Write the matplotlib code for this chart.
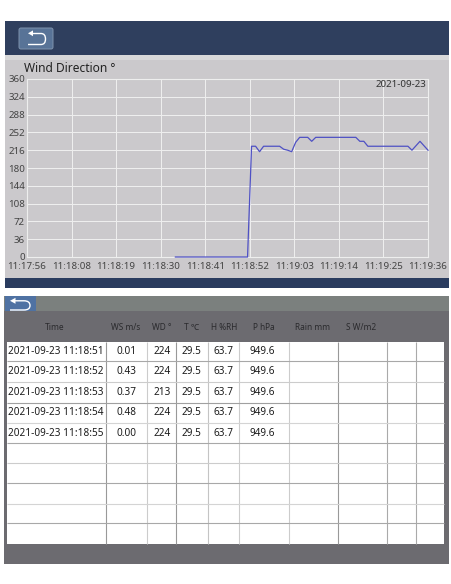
import matplotlib
matplotlib.use("Agg")
import matplotlib.pyplot as plt
from matplotlib.patches import Rectangle, FancyBboxPatch, Polygon
from matplotlib.path import Path
from matplotlib.patches import PathPatch

plt.rcParams['font.family'] = ['Noto Sans', 'Noto Sans CJK SC', 'DejaVu Sans']

# ---- data ----
chart_title = "Wind Direction °"
chart_date = "2021-09-23"
y_ticks = [0, 36, 72, 108, 144, 180, 216, 252, 288, 324, 360]
x_ticks = [0, 11.11, 22.22, 33.33, 44.44, 55.56, 66.67, 77.78, 88.89, 100]
x_labels = ["11:17:56", "11:18:08", "11:18:19", "11:18:30", "11:18:41",
            "11:18:52", "11:19:03", "11:19:14", "11:19:25", "11:19:36"]
seconds = [37, 38, 39, 40, 41, 42, 43, 44, 45, 46, 47, 48, 49, 50, 51, 52, 53, 54, 55,
           56, 57, 58, 59, 60, 61, 62, 63, 64, 65, 66, 67, 68, 69, 70, 71, 72, 73, 74,
           75, 76, 77, 78, 79, 80, 81, 82, 83, 84, 85, 86, 87, 88, 89, 90, 91, 92, 93,
           94, 95, 96, 97, 98, 99, 100]
direction = [0, 0, 0, 0, 0, 0, 0, 0, 0, 0, 0, 0, 0, 0, 0, 0, 0, 0, 0,
             224, 224, 213, 224, 224, 224, 224, 224, 218, 216, 213, 232, 242, 242, 242, 234, 242, 242, 242,
             242, 242, 242, 242, 242, 242, 242, 242, 234, 234, 224, 224, 224, 224, 224, 224, 224, 224, 224,
             224, 224, 216, 225, 234, 225, 216]

table_headers = ["Time", "WS m/s", "WD °", "T ℃", "H %RH", "P hPa", "Rain mm", "S W/m2"]
row_time = ["2021-09-23 11:18:51", "2021-09-23 11:18:52", "2021-09-23 11:18:53",
            "2021-09-23 11:18:54", "2021-09-23 11:18:55"]
row_ws = ["0.01", "0.43", "0.37", "0.48", "0.00"]
row_wd = ["224", "224", "213", "224", "224"]
row_t = ["29.5", "29.5", "29.5", "29.5", "29.5"]
row_h = ["63.7", "63.7", "63.7", "63.7", "63.7"]
row_p = ["949.6", "949.6", "949.6", "949.6", "949.6"]

# ---- figure and pixel-space layer ----
fig = plt.figure(figsize=(4.52, 5.84), dpi=100, facecolor="white")
bg = fig.add_axes([0, 0, 1, 1])
bg.set_xlim(0, 452)
bg.set_ylim(584, 0)
bg.axis("off")

def rect(x0, y0, x1, y1, color, z=1):
    bg.add_patch(Rectangle((x0, y0), x1 - x0, y1 - y0, facecolor=color, edgecolor="none", zorder=z))

def back_icon(pts, head, lw):
    verts = [pts[0], pts[1], pts[2], pts[3], pts[4], pts[5], pts[6]]
    codes = [Path.MOVETO, Path.LINETO, Path.CURVE3, Path.CURVE3, Path.CURVE3, Path.CURVE3, Path.LINETO]
    bg.add_patch(PathPatch(Path(verts, codes), facecolor="none", edgecolor="white", lw=lw, zorder=5))
    bg.add_patch(Polygon(head, closed=True, facecolor="white", edgecolor="none", zorder=5))

# upper panel
rect(5, 21, 449, 55, "#2f3f5e")
rect(5, 55, 449, 60, "#d8d8d9")
rect(5, 60, 449, 278, "#cbc9cc")
rect(5, 278, 449, 287.5, "#2a3c5f")
bg.add_patch(FancyBboxPatch((19, 28), 34, 21, boxstyle="round,pad=0,rounding_size=2",
                            facecolor="#587397", edgecolor="#7f93ad", lw=0.7, zorder=3))
back_icon([(32, 33.5), (41, 33.5), (45.5, 33.5), (45.5, 39), (45.5, 44.5), (41, 44.5), (28, 44.5)],
          [(28, 33.3), (33, 30.4), (33, 36.2)], 1.0)
bg.text(24, 68.3, chart_title, fontsize=8.6, color="#222222", ha="left", va="center", zorder=4)

# lower panel
rect(4.5, 296, 449, 311, "#7b807e")
rect(4.5, 311, 449, 564, "#6c6b70")
rect(5, 296, 36, 311, "#4f72a3", z=2)
back_icon([(15, 300.8), (24, 300.8), (30, 300.8), (30, 305.5), (30, 310), (24, 310), (10, 310)],
          [(10, 300.8), (15.5, 297.8), (15.5, 303.8)], 1.0)

# table
col_edges = [6.7, 106.5, 147, 176.5, 208, 239.5, 288.7, 338, 387, 415.7, 444]
col_shades = ["#999999", "#cccccc", "#999999", "#c4c4c4", "#cccccc", "#cccccc", "#999999", "#aaaaaa", "#aaaaaa"]
row_edges = [341.7, 361.3, 382, 402.7, 422.7, 443.3, 463.3, 483.3, 504, 523.3, 544]
row_shades = ["#a8a8a8", "#cccccc", "#a0a0a0", "#d4d4d4", "#a8a8a8", "#cccccc", "#a8a8a8", "#d4d4d4", "#a8a8a8"]
rect(col_edges[0], row_edges[0], col_edges[-1], row_edges[-1], "white", z=2)
for x, c in zip(col_edges[1:-1], col_shades):
    bg.plot([x, x], [row_edges[0], row_edges[-1]], color=c, lw=0.8, zorder=3, solid_capstyle="butt")
for y, c in zip(row_edges[1:-1], row_shades):
    bg.plot([col_edges[0], col_edges[-1]], [y, y], color=c, lw=0.8, zorder=3, solid_capstyle="butt")

header_x = [55, 126, 162, 192, 224, 264, 313, 361]
for x, label in zip(header_x, table_headers):
    bg.text(x, 328, label, fontsize=6.0, color="#2b2b2e", ha="center", va="center", zorder=4)

value_x = [55.5, 126.7, 161.7, 191.7, 224, 262.7]
for i, row in enumerate(zip(row_time, row_ws, row_wd, row_t, row_h, row_p)):
    yc = (row_edges[i] + row_edges[i + 1]) / 2
    for x, s in zip(value_x, row):
        bg.text(x, yc, s, fontsize=7.2, color="#1c1c1c", ha="center", va="center", zorder=4)

# chart
ax = fig.add_axes([27 / 452, (584 - 257) / 584, (428 - 27) / 452, (257 - 79) / 584])
ax.set_facecolor("#cbc9cc")
ax.set_xlim(0, 100)
ax.set_ylim(0, 360)
ax.set_xticks(x_ticks)
ax.set_xticklabels(x_labels)
ax.set_yticks(y_ticks)
ax.grid(True, color="#eeeeee", lw=0.75)
ax.set_axisbelow(True)
for s in ["left", "bottom", "top", "right"]:
    ax.spines[s].set_color("#eeeeee")
    ax.spines[s].set_linewidth(0.8)
ax.tick_params(axis="both", length=0, labelsize=7.0, labelcolor="#444444")
ax.tick_params(axis="x", pad=3.5)
ax.tick_params(axis="y", pad=1.5)
ax.plot(seconds, direction, color="#4f51c4", lw=0.9, solid_joinstyle="round", clip_on=False, zorder=3)
ax.text(99.5, 348, chart_date, fontsize=7.0, color="#333333", ha="right", va="center")

fig.savefig("out.png", dpi=100, facecolor="white")
